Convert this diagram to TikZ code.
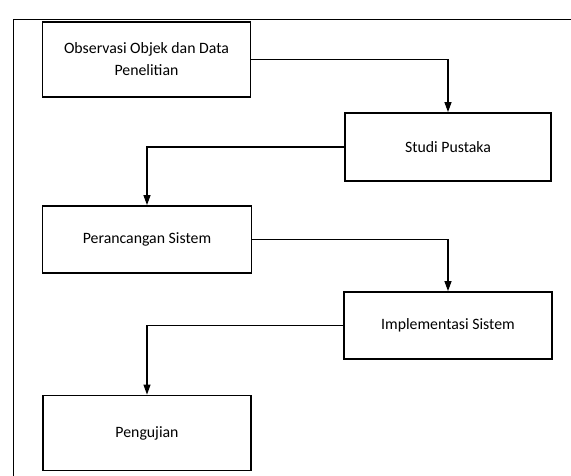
\documentclass[tikz,border=0pt]{standalone}
\usepackage{fontspec}
\setmainfont{Carlito}
\usetikzlibrary{arrows.meta,positioning}

\begin{document}
\begin{tikzpicture}[
  x=1pt, y=-1pt,
  mybox/.style={
    draw,
    line width=1.8pt,
    rectangle,
    minimum width=208pt,
    minimum height=67pt,
    align=center,
    font=\fontsize{15.8}{19}\selectfont
    },
  myarrow/.style={
    draw,
    line width=1.1pt,
    -{Triangle[length=10pt,width=7pt]}
    }
]
\useasboundingbox (0,0) rectangle (571,476);
\draw [line width=0.8pt] (13,476) -- (13,19) -- (571,19);

\node [mybox, minimum height=75pt] (obs) at (146.5,59.5) {Observasi Objek dan Data\\[3pt]Penelitian};
\node [mybox, minimum width=206pt, minimum height=68pt] (studi) at (448,147) {Studi Pustaka};
\node [mybox, minimum width=209pt] (rancang) at (147,239.5) {Perancangan Sistem};
\node [mybox] (impl) at (448,325.5) {Implementasi Sistem};
\node [mybox, minimum height=75pt] (uji) at (147,433) {Pengujian};

\draw [myarrow] (obs.east) -| (studi.north);
\draw [myarrow] (studi.west) -| (rancang.north);
\draw [myarrow] (rancang.east) -| (impl.north);
\draw [myarrow] (impl.west) -| (uji.north);

\end{tikzpicture}
\end{document}
